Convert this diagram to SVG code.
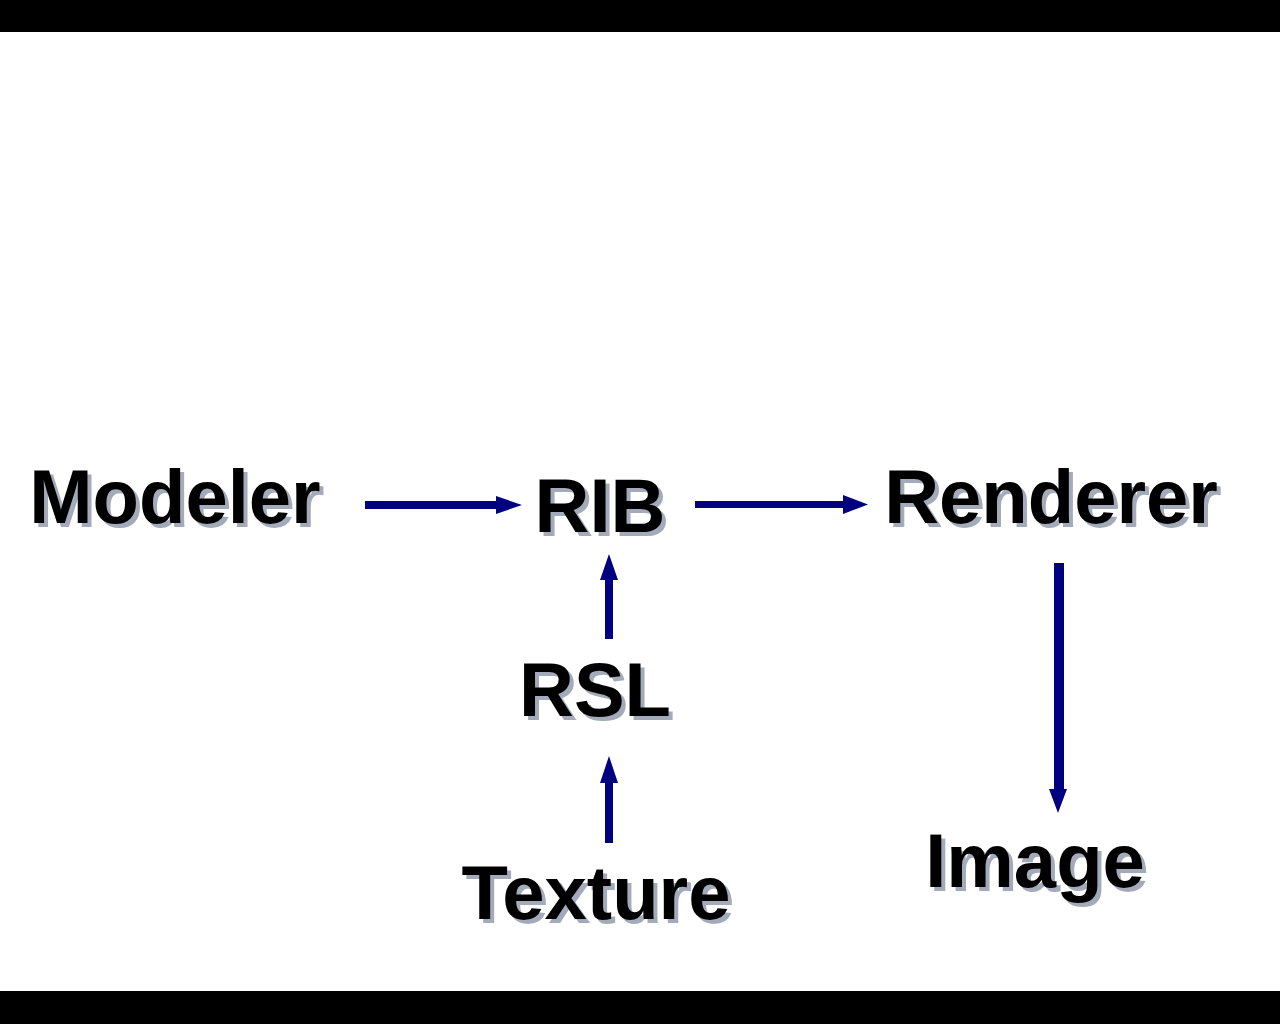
<svg xmlns="http://www.w3.org/2000/svg" width="1280" height="1024" viewBox="0 0 1280 1024">
<style>
.lbl{font-family:"Liberation Sans",Arial,sans-serif;font-weight:bold;font-size:76px;text-anchor:middle}
.sh{fill:#a3aab9}
.fg{fill:#000000}
.ar{fill:#000080}
</style>
<rect x="0" y="0" width="1280" height="1024" fill="#ffffff"/>
<rect x="0" y="0" width="1280" height="32" fill="#000000"/>
<rect x="0" y="991" width="1280" height="33" fill="#000000"/>
<g id="node-modeler"><text class="lbl sh" x="179" y="527">Modeler</text><text class="lbl fg" x="175" y="523">Modeler</text></g>
<g id="node-rib"><text class="lbl sh" x="604" y="536">RIB</text><text class="lbl fg" x="600" y="532">RIB</text></g>
<g id="node-renderer"><text class="lbl sh" x="1055" y="527">Renderer</text><text class="lbl fg" x="1051" y="523">Renderer</text></g>
<g id="node-rsl"><text class="lbl sh" x="599" y="720">RSL</text><text class="lbl fg" x="595" y="716">RSL</text></g>
<g id="node-texture"><text class="lbl sh" x="600" y="923">Texture</text><text class="lbl fg" x="596" y="919">Texture</text></g>
<g id="node-image"><text class="lbl sh" x="1039" y="891">Image</text><text class="lbl fg" x="1035" y="887">Image</text></g>
<g id="connectors">
<path class="ar" d="M365,501 H496 V496 L522,505 L496,514 V509 H365 Z"/>
<path class="ar" d="M695,501 H843 V495 L868,504.5 L843,514 V508 H695 Z"/>
<path class="ar" d="M605,639 V580 H600 L609,554 L618,580 H613 V639 Z"/>
<path class="ar" d="M605,843 V783 H600 L609,756 L618,783 H613 V843 Z"/>
<path class="ar" d="M1054,563 H1064 V789 H1067 L1058,813 L1049,789 H1054 Z"/>
</g>
</svg>
